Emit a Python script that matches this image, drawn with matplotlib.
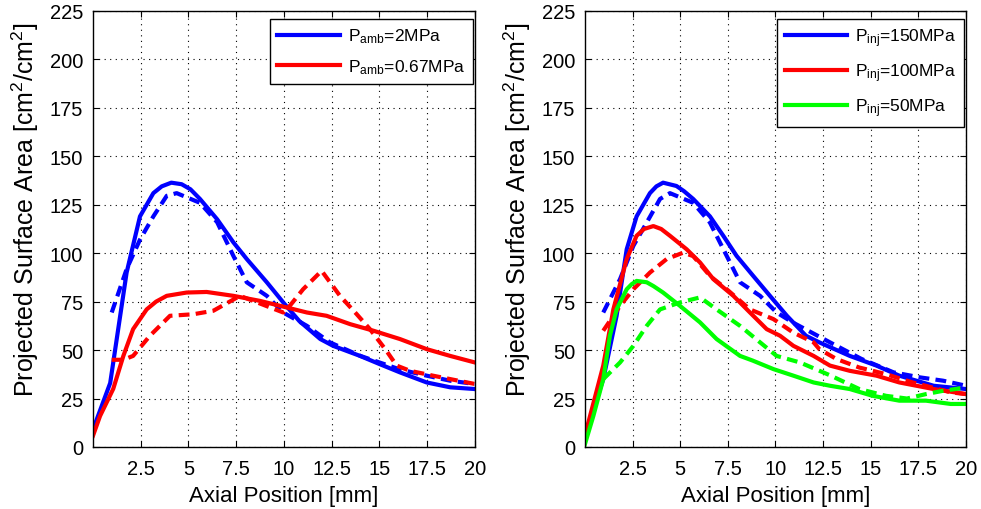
import matplotlib
matplotlib.use("Agg")
import matplotlib.pyplot as plt
from matplotlib.lines import Line2D

plt.rcParams['font.family'] = ['Liberation Sans', 'DejaVu Sans']
plt.rcParams['mathtext.fontset'] = 'custom'
plt.rcParams['mathtext.rm'] = 'Liberation Sans'
plt.rcParams['mathtext.it'] = 'Liberation Sans:italic'
plt.rcParams['mathtext.bf'] = 'Liberation Sans:bold'

# ---------- Left panel data ----------
l_blue_sol_x = [0, 0.9, 1.76, 2.46, 3.16, 3.6, 4.1, 4.64, 5.1, 5.6, 6.5, 7.35, 8.05, 9.1, 9.96, 10.8, 11.9, 12.57, 13.98, 15.0, 16.07, 17.47, 18.7, 20]
l_blue_sol_y = [9, 33, 90, 119, 131, 134.5, 136.4, 135.6, 133, 128, 117.5, 105.6, 97, 85, 74.6, 65, 55.7, 52.2, 47, 42.8, 38.5, 33.3, 30.8, 29.9]
l_blue_dash_x = [0.98, 1.76, 2.46, 3.16, 3.86, 4.38, 5.6, 6.5, 7.35, 8.05, 9.1, 9.96, 11.2, 12.4, 14.0, 16.07, 17.47, 18.7, 20]
l_blue_dash_y = [69.4, 91.8, 107, 119, 129.6, 131, 126, 116, 98.6, 85, 78, 69.4, 62.5, 54, 47, 40, 36.8, 34.2, 32.5]
l_red_sol_x = [0, 0.37, 1.06, 1.59, 2.1, 2.81, 3.3, 3.86, 4.9, 5.95, 7.35, 8.74, 10.14, 11.2, 12.23, 13.46, 14.68, 16.07, 17.47, 18.7, 20]
l_red_sol_y = [5.8, 16, 30, 47, 60.8, 71, 75, 78, 79.7, 80, 78, 75.4, 72, 69.4, 67.7, 63.4, 60, 55.7, 50.5, 47, 43.6]
l_red_dash_x = [0.98, 1.59, 2.1, 2.98, 4.03, 5.25, 6.3, 7.7, 9.96, 10.3, 11.0, 11.97, 12.93, 13.8, 14.5, 15.3, 15.9, 16.6, 17.8, 20]
l_red_dash_y = [45, 45, 47, 57.4, 67.7, 68.5, 70.3, 78, 69.4, 72.8, 81.4, 90.9, 78, 68.6, 60.8, 50.5, 42, 39.3, 36.8, 32.5]

# ---------- Right panel data ----------
r_blue_sol_x = [0, 0.96, 1.66, 2.19, 2.71, 3.41, 3.75, 4.1, 4.8, 5.2, 5.68, 6.56, 7.26, 7.96, 8.83, 9.71, 10.6, 11.6, 12.3, 13.9, 15.3, 16.5, 18.3, 20]
r_blue_sol_y = [6, 35, 67.7, 102, 119, 131, 134.5, 136.4, 134.7, 132, 128, 119, 109, 98.6, 88.3, 78, 67.7, 57.4, 54, 47, 42, 36.8, 31.6, 29.9]
r_blue_dash_x = [0.96, 1.84, 2.54, 3.24, 3.94, 4.46, 5.68, 6.56, 7.44, 8.14, 9.19, 10.06, 10.9, 12.86, 14.5, 16.2, 17.6, 18.8, 20]
r_blue_dash_y = [69.4, 86.6, 103.8, 115.8, 128, 131, 126, 115.8, 98.6, 85, 78, 69.4, 64.3, 54, 45.5, 38.5, 35.9, 34.2, 31.6]
r_red_sol_x = [0, 0.96, 1.49, 2.19, 2.71, 3.1, 3.59, 4.0, 4.46, 5.34, 6.04, 6.74, 7.79, 8.66, 9.54, 10.24, 10.94, 12.0, 12.86, 13.9, 15.3, 16.5, 18.3, 20]
r_red_sol_y = [6, 42, 71, 97, 109, 112.5, 114, 112.5, 109, 102, 95.2, 86.6, 78, 69.4, 60.8, 57.4, 52.2, 47, 42, 39.3, 36.8, 33.3, 29.9, 27.3]
r_red_dash_x = [0.96, 1.84, 2.54, 3.41, 4.29, 5.16, 5.68, 6.56, 7.44, 8.66, 9.89, 10.94, 12.0, 12.3, 13.2, 14.4, 15.8, 17.2, 19.2, 20]
r_red_dash_y = [60, 72.8, 81.4, 90, 97, 100.3, 98.5, 88.3, 81.4, 71, 66, 59, 54, 50.5, 45.4, 41, 37.6, 33.3, 28.2, 27.3]
r_green_sol_x = [0, 0.44, 0.96, 1.31, 1.66, 2.19, 2.45, 2.71, 3.24, 3.6, 4.1, 4.99, 6.04, 6.91, 8.14, 8.8, 9.89, 10.94, 12.0, 12.86, 13.9, 15.1, 16.5, 17.9, 19.2, 20]
r_green_sol_y = [1.5, 16, 35, 57.4, 71, 81.4, 84, 85.7, 85, 83, 79.7, 72.8, 64.3, 55.7, 47, 44.6, 40.2, 36.8, 33.3, 31.6, 29.9, 26.4, 23.9, 23.9, 22.2, 22.2]
r_green_dash_x = [0.96, 1.84, 2.54, 3.24, 3.94, 4.99, 6.04, 6.91, 8.14, 9.19, 10.06, 11.29, 12.86, 14.4, 15.8, 16.9, 17.9, 18.8, 20]
r_green_dash_y = [35, 43.6, 52.2, 62.5, 71, 74.6, 77.2, 71, 62.5, 54, 47, 43.6, 37, 29.9, 26.4, 25, 27.3, 29, 30.7]

xticks = [2.5, 5, 7.5, 10, 12.5, 15, 17.5, 20]
xticklabels = ['2.5', '5', '7.5', '10', '12.5', '15', '17.5', '20']
yticks = [0, 25, 50, 75, 100, 125, 150, 175, 200, 225]

left_labels = [r'P$_{\mathrm{amb}}$=2MPa', r'P$_{\mathrm{amb}}$=0.67MPa']
right_labels = [r'P$_{\mathrm{inj}}$=150MPa', r'P$_{\mathrm{inj}}$=100MPa', r'P$_{\mathrm{inj}}$=50MPa']

BLUE = '#0000ff'
RED = '#ff0000'
GREEN = '#00ff00'
LW = 3.0
DASH = (2.6, 1.5)

fig = plt.figure(figsize=(9.81, 5.10), dpi=100)
axL = fig.add_axes([0.0948, 0.1216, 0.3894, 0.8549])
axR = fig.add_axes([0.5963, 0.1216, 0.3884, 0.8549])

def style(ax):
    ax.set_xlim(0, 20)
    ax.set_ylim(0, 225)
    ax.set_xticks(xticks)
    ax.set_xticklabels(xticklabels)
    ax.set_yticks(yticks)
    ax.tick_params(direction='in', top=True, right=True, labelsize=14.5, length=4, width=0.8)
    ax.tick_params(axis='x', pad=9)
    ax.tick_params(axis='y', pad=7)
    ax.grid(True, linestyle=(0, (1, 4)), color='black', linewidth=0.8)
    for s in ax.spines.values():
        s.set_linewidth(1.0)
    ax.set_xlabel('Axial Position [mm]', fontsize=16, labelpad=5)
    ax.set_ylabel(r'Projected Surface Area [cm$^2$/cm$^2$]', fontsize=18)
    ax.yaxis.set_label_coords(-0.137, 0.546)

def legend(ax, handles, labels):
    leg = ax.legend(handles, labels, loc='upper right', bbox_to_anchor=(0.995, 0.982),
                    borderaxespad=0, fontsize=12.5, frameon=True, fancybox=False,
                    edgecolor='black', framealpha=1, handlelength=3.6,
                    labelspacing=0.7, borderpad=0.45, handletextpad=0.45)
    leg.get_frame().set_linewidth(1.0)

# Left
axL.plot(l_blue_sol_x, l_blue_sol_y, color=BLUE, lw=LW)
axL.plot(l_blue_dash_x, l_blue_dash_y, color=BLUE, lw=LW, dashes=DASH)
axL.plot(l_red_sol_x, l_red_sol_y, color=RED, lw=LW)
axL.plot(l_red_dash_x, l_red_dash_y, color=RED, lw=LW, dashes=DASH)
style(axL)
legend(axL, [Line2D([], [], color=c, lw=LW) for c in (BLUE, RED)], left_labels)

# Right
axR.plot(r_blue_sol_x, r_blue_sol_y, color=BLUE, lw=LW)
axR.plot(r_blue_dash_x, r_blue_dash_y, color=BLUE, lw=LW, dashes=DASH)
axR.plot(r_red_sol_x, r_red_sol_y, color=RED, lw=LW)
axR.plot(r_red_dash_x, r_red_dash_y, color=RED, lw=LW, dashes=DASH)
axR.plot(r_green_sol_x, r_green_sol_y, color=GREEN, lw=LW)
axR.plot(r_green_dash_x, r_green_dash_y, color=GREEN, lw=LW, dashes=DASH)
style(axR)
legend(axR, [Line2D([], [], color=c, lw=LW) for c in (BLUE, RED, GREEN)], right_labels)

fig.savefig('out.png', dpi=100)
